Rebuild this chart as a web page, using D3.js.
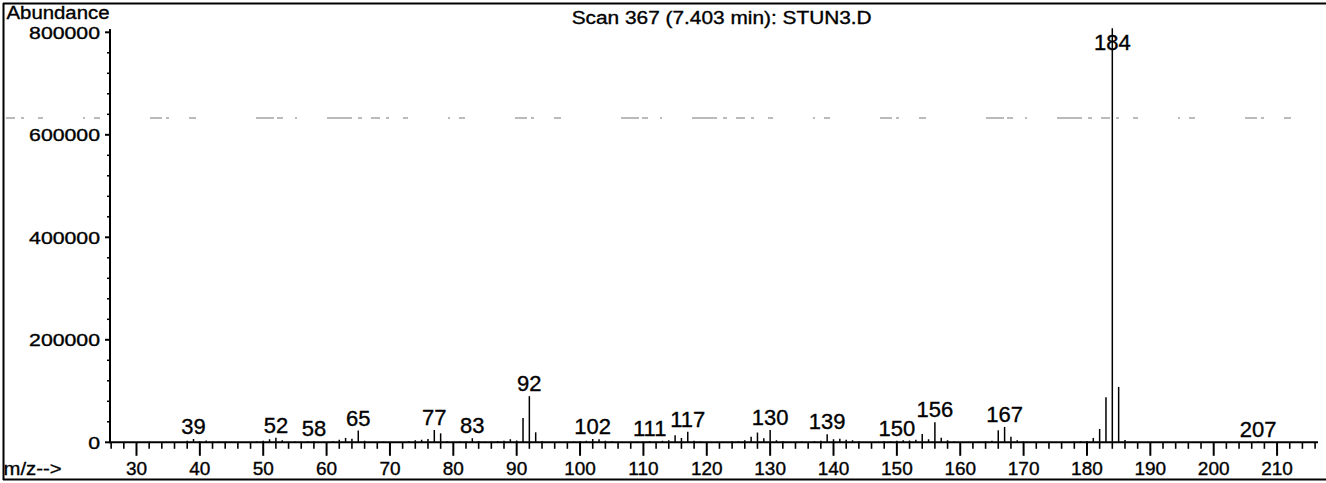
<!DOCTYPE html>
<html>
<head>
<meta charset="utf-8">
<script src="https://cdn.jsdelivr.net/npm/d3@7"></script>
<style>
  html, body { margin: 0; padding: 0; background: #fff; }
  svg { display: block; }
  text { font-family: "Liberation Sans", Arial, sans-serif; fill: #000; stroke: #000; stroke-width: 0.35; }
</style>
</head>
<body>
<svg id="chart" width="1326" height="483"></svg>
<script>
// ---- data ----
const mzValues = [38,39,40,41,42,43,44,45,49,50,51,52,53,55,56,57,58,61,62,63,64,65,66,69,73,74,75,76,77,78,79,81,82,83,84,85,86,87,88,89,90,91,92,93,94,98,99,100,101,102,103,104,105,109,110,111,112,113,114,115,116,117,118,119,124,125,126,127,128,129,130,131,132,135,137,138,139,140,141,142,143,144,148,149,150,151,152,153,154,155,156,157,158,159,163,164,165,166,167,168,169,170,176,178,179,180,181,182,183,184,185,186,187,207];
const abundances = [3000,6500,2000,3500,1500,1500,1000,1000,1500,3000,6000,9000,4000,1500,1000,2000,2000,2000,5000,8500,7000,23000,3000,1500,2000,4000,5000,6500,24000,17500,2000,1500,1500,8000,2500,1000,1500,2500,3000,6000,3500,47600,90000,19500,2000,1000,1500,2000,3000,6500,6000,3000,2000,1000,1500,2000,1500,3000,4000,14000,8500,20700,3000,1500,2000,2000,4000,11000,19000,8000,24000,4000,2000,1500,2000,3000,15500,6000,7000,5000,4000,2000,2000,2000,3000,4000,3500,5000,16000,6000,39000,9000,4000,1500,1000,2000,3000,23400,30000,11000,4000,1500,1000,1500,2000,2500,8500,26000,88000,808000,108000,4500,1000,1500];
const labeledPeaks = [39,52,58,65,77,83,92,102,111,117,130,139,150,156,167,184,207];
const xTickValues = [30,40,50,60,70,80,90,100,110,120,130,140,150,160,170,180,190,200,210];
const yTickValues = [0,200000,400000,600000,800000];
const titleText = "Scan 367 (7.403 min): STUN3.D";
const yAxisTitle = "Abundance";
const xAxisTitle = "m/z-->";

// ---- layout ----
const svg = d3.select("#chart");
const x = d3.scaleLinear().domain([25.82, 216.46]).range([110, 1318]);
const y = d3.scaleLinear().domain([0, 800000]).range([442.3, 32.3]);
const valueOf = new Map(mzValues.map((m, i) => [m, abundances[i]]));

// frame
const frame = svg.append("g").attr("stroke", "#000").attr("stroke-width", 2).attr("fill", "none");
frame.append("line").attr("x1", 3).attr("x2", 1326).attr("y1", 3.5).attr("y2", 3.5);
frame.append("line").attr("x1", 3.5).attr("x2", 3.5).attr("y1", 3).attr("y2", 480);
frame.append("line").attr("x1", 3).attr("x2", 1326).attr("y1", 479.5).attr("y2", 479.5);

// faint scan artifact (broken dashed row)
svg.append("line")
  .attr("x1", 6).attr("x2", 1320).attr("y1", 118).attr("y2", 118)
  .attr("stroke", "#777").attr("stroke-width", 1)
  .attr("stroke-dasharray", "9 6 3 14 5 40 2 9 6 50 12 4 3 20 7 60 18 3 6 12 2 30 25 6 4 9");

// x axis
const xAxisG = svg.append("g").attr("transform", `translate(0,${y(0)})`);
xAxisG.append("line").attr("x1", 110).attr("x2", 1318).attr("y1", 0).attr("y2", 0)
  .attr("stroke", "#000").attr("stroke-width", 2);
const minorX = d3.range(26, 217, 2).filter(v => v % 10 !== 0);
xAxisG.selectAll(".mx").data(minorX).join("line")
  .attr("x1", d => x(d)).attr("x2", d => x(d)).attr("y1", 0).attr("y2", 6.5)
  .attr("stroke", "#000").attr("stroke-width", 1.6);
xAxisG.selectAll(".Mx").data(xTickValues).join("line")
  .attr("x1", d => x(d)).attr("x2", d => x(d)).attr("y1", 0).attr("y2", 13.5)
  .attr("stroke", "#000").attr("stroke-width", 2);
xAxisG.selectAll(".xl").data(xTickValues).join("text")
  .attr("x", d => x(d)).attr("y", 32.7)
  .attr("text-anchor", "middle").attr("font-size", 19)
  .text(d => d);

// y axis
const yAxisG = svg.append("g").attr("transform", "translate(110,0)");
yAxisG.append("line").attr("x1", 0).attr("x2", 0).attr("y1", y(0) + 1).attr("y2", 29)
  .attr("stroke", "#000").attr("stroke-width", 2);
const minorY = d3.range(40000, 800001, 40000).filter(v => v % 200000 !== 0);
yAxisG.selectAll(".my").data(minorY).join("line")
  .attr("x1", -3).attr("x2", 0).attr("y1", d => y(d)).attr("y2", d => y(d))
  .attr("stroke", "#000").attr("stroke-width", 1.5);
yAxisG.selectAll(".My").data(yTickValues).join("line")
  .attr("x1", -5).attr("x2", 0).attr("y1", d => y(d)).attr("y2", d => y(d))
  .attr("stroke", "#000").attr("stroke-width", 2);
yAxisG.selectAll(".yl").data(yTickValues).join("text")
  .attr("transform", d => `translate(-10,${y(d) + 6.5}) scale(1.25,1)`)
  .attr("text-anchor", "end").attr("font-size", 17)
  .text(d => d);

// bars
svg.append("g").selectAll("line").data(mzValues).join("line")
  .attr("x1", d => x(d)).attr("x2", d => x(d))
  .attr("y1", y(0)).attr("y2", d => y(valueOf.get(d)))
  .attr("stroke", "#000").attr("stroke-width", 1.5);

// peak labels
svg.append("g").selectAll("text").data(labeledPeaks).join("text")
  .attr("x", d => x(d))
  .attr("y", d => Math.max(y(valueOf.get(d)) - 5, 50))
  .attr("text-anchor", "middle").attr("font-size", 22)
  .text(d => d);

// titles
svg.append("text").attr("x", 721.7).attr("y", 24).attr("text-anchor", "middle")
  .attr("font-size", 17.5).attr("textLength", 300).attr("lengthAdjust", "spacingAndGlyphs")
  .text(titleText);
svg.append("text").attr("x", 6.5).attr("y", 19).attr("font-size", 18)
  .attr("textLength", 103).attr("lengthAdjust", "spacingAndGlyphs")
  .text(yAxisTitle);
svg.append("text").attr("x", 3.5).attr("y", 475).attr("font-size", 19)
  .attr("textLength", 58).attr("lengthAdjust", "spacingAndGlyphs")
  .text(xAxisTitle);
</script>
</body>
</html>
